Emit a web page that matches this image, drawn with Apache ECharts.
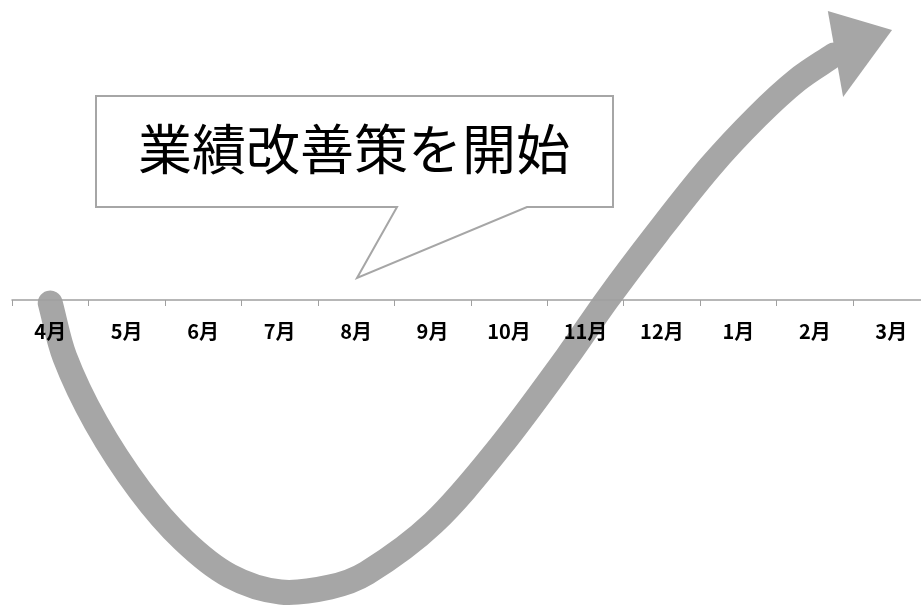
<!DOCTYPE html>
<html>
<head>
<meta charset="utf-8">
<script src="https://cdn.jsdelivr.net/npm/echarts@6/dist/echarts.min.js"></script>
<style>
html,body{margin:0;padding:0;background:#fff;}
#main{width:921px;height:610px;}
</style>
</head>
<body>
<div id="main"></div>
<script>
// Month categories (fiscal year April → March)
var months = ['4月','5月','6月','7月','8月','9月','10月','11月','12月','1月','2月','3月'];
// Performance trend curve: x = position in months from axis start, y = performance index
var trendX = [0.50, 0.69, 1.10, 1.67, 2.24, 2.85, 3.51, 4.16, 4.64, 5.51, 6.38, 7.26, 7.78, 8.44, 9.13, 9.74, 10.27, 10.75];
var trendY = [-0.3, -5.7, -12.3, -19.0, -24.0, -27.6, -29.2, -28.7, -27.3, -22.3, -14.7, -5.7, 0.0, 6.7, 13.3, 18.3, 22.0, 24.5];
// Arrow head vertices (month position, index)
var headX = [10.67, 11.51, 10.87];
var headY = [28.9, 27.0, 20.3];
var calloutText = '業績改善策を開始';

var trendData = trendX.map(function (x, i) { return [x, trendY[i]]; });
var headData = [[headX[0], headY[0], headX[1], headY[1], headX[2], headY[2]]];

var gray = '#a6a6a6';

function smoothPath(pts) {
  var n = pts.length;
  function dist(a, b) { return Math.sqrt((a[0]-b[0])*(a[0]-b[0]) + (a[1]-b[1])*(a[1]-b[1])); }
  var d = 'M' + pts[0][0] + ' ' + pts[0][1];
  for (var i = 0; i < n - 1; i++) {
    var p0 = pts[i > 0 ? i - 1 : i], p1 = pts[i], p2 = pts[i + 1], p3 = pts[i + 2 < n ? i + 2 : i + 1];
    var d01 = dist(p0, p1), d12 = dist(p1, p2), d23 = dist(p2, p3);
    var k1 = (d01 + d12) > 0 ? d12 / (d01 + d12) / 3 : 1 / 3;
    var k2 = (d12 + d23) > 0 ? d12 / (d12 + d23) / 3 : 1 / 3;
    if (i === 0) k1 = 1 / 3;
    if (i + 2 >= n) k2 = 1 / 3;
    var c1 = [p1[0] + (p2[0] - p0[0]) * k1, p1[1] + (p2[1] - p0[1]) * k1];
    var c2 = [p2[0] - (p3[0] - p1[0]) * k2, p2[1] - (p3[1] - p1[1]) * k2];
    d += ' C' + c1[0] + ' ' + c1[1] + ' ' + c2[0] + ' ' + c2[1] + ' ' + p2[0] + ' ' + p2[1];
  }
  return d;
}

var chart = echarts.init(document.getElementById('main'));
chart.setOption({
  animation: false,
  backgroundColor: '#ffffff',
  grid: [
    { left: 12, right: -8.5, top: 0, bottom: 310, containLabel: false, outerBoundsMode: 'none' },
    { left: 12, right: -8.5, top: 0, bottom: 0, containLabel: false, outerBoundsMode: 'none' }
  ],
  xAxis: [
    {
      type: 'category',
      gridIndex: 0,
      data: months,
      z: 10,
      boundaryGap: true,
      axisLine: { show: true, onZero: false, lineStyle: { color: '#a0a0a0', width: 1.5 } },
      axisTick: { show: true, length: 6, lineStyle: { color: '#a0a0a0', width: 1 } },
      axisLabel: {
        margin: 21,
        color: '#000',
        fontSize: 20,
        fontWeight: 'bold',
        fontFamily: '"Noto Sans CJK JP", sans-serif',
        interval: 0
      },
      splitLine: { show: false }
    },
    { type: 'value', gridIndex: 1, min: 0, max: 12, show: false }
  ],
  yAxis: [
    { type: 'value', gridIndex: 0, show: false, splitLine: { show: false } },
    { type: 'value', gridIndex: 1, min: -31, max: 30, show: false, splitLine: { show: false } }
  ],
  series: [
    {
      type: 'custom',
      name: 'trend',
      xAxisIndex: 1,
      yAxisIndex: 1,
      data: trendData,
      encode: { x: 0, y: 1 },
      z: 2,
      clip: false,
      renderItem: function (params, api) {
        if (params.dataIndex !== 0) return null;
        var pts = trendData.map(function (p) { return api.coord(p); });
        return {
          type: 'path',
          shape: { pathData: smoothPath(pts) },
          style: { fill: 'none', stroke: gray, lineWidth: 25, lineCap: 'round', lineJoin: 'round' }
        };
      }
    },
    {
      type: 'custom',
      name: 'arrowHead',
      xAxisIndex: 1,
      yAxisIndex: 1,
      data: headData,
      encode: { x: [0, 2, 4], y: [1, 3, 5] },
      z: 3,
      renderItem: function (params, api) {
        var p1 = api.coord([api.value(0), api.value(1)]);
        var p2 = api.coord([api.value(2), api.value(3)]);
        var p3 = api.coord([api.value(4), api.value(5)]);
        return { type: 'polygon', shape: { points: [p1, p2, p3] }, style: { fill: gray } };
      }
    }
  ],
  graphic: [
    {
      type: 'polygon',
      z: 20,
      shape: { points: [[96, 96], [613, 96], [613, 207], [527, 207], [357, 278], [397, 207], [96, 207]] },
      style: { fill: '#ffffff', stroke: '#a6a6a6', lineWidth: 2 }
    },
    {
      type: 'text',
      z: 21,
      x: 354,
      y: 149,
      style: {
        text: calloutText,
        fill: '#000',
        font: '400 54px "Noto Sans CJK JP", sans-serif',
        align: 'center',
        verticalAlign: 'middle'
      }
    }
  ]
});
</script>
</body>
</html>
